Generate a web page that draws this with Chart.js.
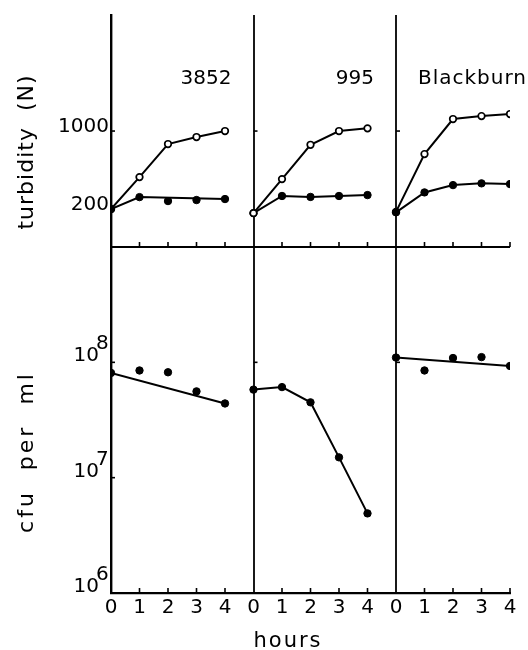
<!DOCTYPE html>
<html>
<head>
<meta charset="utf-8">
<script src="https://cdn.jsdelivr.net/npm/chart.js@4.4.1/dist/chart.umd.min.js"></script>
<style>
    body { margin: 0; background: #fff; }
</style>
</head>
<body>
<canvas id="chart" width="528" height="650"></canvas>
<script>
// DATA
let strains = ["3852", "995", "Blackburn"];
let hours = [0, 1, 2, 3, 4];

// turbidity (N), open circles
let turbOpen3852 = [200, 387, 765, 884, 1000];
let turbOpen995 = [184, 371, 753, 1000, 1057];
let turbOpenBlackburn = [189, 622, 1281, 1362, 1420];

// turbidity (N), filled circles
let turbFilled3852 = [200, 256, 236, 241, 246];
let turbFilledLine3852 = [200, 256, null, null, 246];
let turbFilled995 = [184, 262, 257, 262, 267];
let turbFilledBlackburn = [187, 282, 328, 340, 335];

// cfu per ml
let cfu3852 = [8.1e7, 8.5e7, 8.2e7, 5.6e7, 4.4e7];
let cfuFit3852 = [8.1e7, null, null, null, 4.4e7];
let cfu995 = [5.8e7, 6.1e7, 4.5e7, 1.5e7, 4.9e6];
let cfuBlackburn = [1.1e8, 8.5e7, 1.09e8, 1.11e8, 9.3e7];
let cfuFitBlackburn = [1.1e8, null, null, null, 9.3e7];

// tick labels
let turbTicks = [200, 1000];
let cfuTicks = [1e6, 1e7, 1e8];

const FONT = "DejaVu Sans";
const PANEL = hours.length;   // hours 0..4 then next strain starts

let xTicks = [];
strains.forEach((s, p) => hours.forEach(h => xTicks.push(p * PANEL + h)));

function series(panel, values, axis, opts) {
    let pts = values.map((v, i) => ({ x: panel * PANEL + hours[i], y: v }))
                    .filter(pt => pt.y !== null);
    return Object.assign({
        data: pts,
        yAxisID: axis,
        borderColor: "#000",
        borderWidth: 2,
        pointRadius: 3.7,
        pointHoverRadius: 3.7,
        pointBackgroundColor: "#000",
        pointBorderColor: "#000",
        pointBorderWidth: 1,
        showLine: true,
        fill: false,
        tension: 0
    }, opts);
}

const openStyle = { pointRadius: 3.3, pointBackgroundColor: "#fff", pointBorderWidth: 1.7 };
const dotsOnly = { showLine: false };
const lineOnly = { pointRadius: 0, pointHoverRadius: 0 };

let datasets = [
    // 3852
    series(0, turbFilled3852, "yTop", dotsOnly),
    series(0, turbFilledLine3852, "yTop", lineOnly),
    series(0, turbOpen3852, "yTop", openStyle),
    series(0, cfu3852, "yBottom", dotsOnly),
    series(0, cfuFit3852, "yBottom", lineOnly),
    // 995
    series(1, turbOpen995, "yTop", openStyle),
    series(1, turbFilled995, "yTop", {}),
    series(1, cfu995, "yBottom", {}),
    // Blackburn
    series(2, turbFilledBlackburn, "yTop", {}),
    series(2, turbOpenBlackburn, "yTop", openStyle),
    series(2, cfuBlackburn, "yBottom", dotsOnly),
    series(2, cfuFitBlackburn, "yBottom", lineOnly)
];

function rotatedText(ctx, text, x, y, spacing) {
    ctx.save();
    ctx.translate(x, y);
    ctx.rotate(-Math.PI / 2);
    ctx.textAlign = "center";
    ctx.textBaseline = "alphabetic";
    ctx.letterSpacing = spacing;
    ctx.fillText(text, 0, 0);
    ctx.restore();
}

// panel frames, inward ticks and texts
const framePlugin = {
    id: "frame",
    beforeDatasetsDraw(chart) {
        let ctx = chart.ctx;
        let x = chart.scales.x, top = chart.scales.yTop, bot = chart.scales.yBottom;
        let area = chart.chartArea;
        ctx.save();
        ctx.strokeStyle = "#000";
        ctx.lineWidth = 1.8;

        // dividers between strains
        strains.forEach((s, p) => {
            if (p === 0) return;
            let px = Math.round(x.getPixelForValue(p * PANEL));
            ctx.beginPath();
            ctx.moveTo(px, area.top);
            ctx.lineTo(px, area.bottom);
            ctx.stroke();
        });

        // bottom line of turbidity panel
        ctx.beginPath();
        ctx.moveTo(area.left, top.bottom);
        ctx.lineTo(area.right, top.bottom);
        ctx.stroke();

        // hour ticks pointing up
        ctx.lineWidth = 1.6;
        xTicks.forEach(v => {
            if (v % PANEL === 0) return;
            let px = x.getPixelForValue(v);
            [top.bottom, bot.bottom].forEach(py => {
                ctx.beginPath();
                ctx.moveTo(px, py);
                ctx.lineTo(px, py - 5);
                ctx.stroke();
            });
        });

        // value ticks pointing right
        strains.forEach((s, p) => {
            let px = x.getPixelForValue(p * PANEL);
            turbTicks.forEach(v => {
                if (p > 0 && v !== 1000) return;
                let py = top.getPixelForValue(v);
                ctx.beginPath();
                ctx.moveTo(px, py);
                ctx.lineTo(px + 4, py);
                ctx.stroke();
            });
            cfuTicks.forEach(v => {
                if (p > 0 && v !== 1e8) return;
                let py = bot.getPixelForValue(v);
                ctx.beginPath();
                ctx.moveTo(px, py);
                ctx.lineTo(px + 4, py);
                ctx.stroke();
            });
        });
        ctx.restore();
    },
    afterDraw(chart) {
        let ctx = chart.ctx;
        let x = chart.scales.x, bot = chart.scales.yBottom;
        let area = chart.chartArea;
        ctx.save();
        ctx.fillStyle = "#000";

        // strain names
        ctx.font = "20px '" + FONT + "'";
        ctx.textBaseline = "alphabetic";
        strains.forEach((s, p) => {
            let last = p === strains.length - 1;
            if (last) {
                ctx.textAlign = "left";
                ctx.letterSpacing = "1px";
                ctx.fillText(s, x.getPixelForValue(p * PANEL) + 22, 84);
            } else {
                ctx.textAlign = "right";
                ctx.letterSpacing = "0px";
                ctx.fillText(s, x.getPixelForValue((p + 1) * PANEL) - 22, 84);
            }
        });

        // cfu tick labels with exponents
        ctx.letterSpacing = "0px";
        cfuTicks.forEach(v => {
            let py = bot.getPixelForValue(v);
            let exp = Math.round(Math.log10(v));
            ctx.font = "20px '" + FONT + "'";
            ctx.textAlign = "right";
            ctx.fillText("10", area.left - 12, py - 1);
            ctx.font = "20px '" + FONT + "'";
            ctx.textAlign = "left";
            ctx.fillText(String(exp), area.left - 15, py - 13);
        });

        // axis titles
        ctx.font = "22px '" + FONT + "'";
        rotatedText(ctx, "turbidity  (N)", 33, 152, "1px");
        rotatedText(ctx, "cfu  per  ml", 33, 452, "3px");

        ctx.textAlign = "center";
        ctx.letterSpacing = "2px";
        ctx.font = "21px '" + FONT + "'";
        ctx.fillText("hours", 288, 647);
        ctx.restore();
    }
};

let chart = new Chart(document.getElementById("chart"), {
    type: "line",
    data: { datasets: datasets },
    options: {
        responsive: false,
        animation: false,
        events: [],
        layout: { padding: { top: 15, right: 18, left: 0, bottom: 0 } },
        plugins: {
            legend: { display: false },
            tooltip: { enabled: false }
        },
        scales: {
            x: {
                type: "linear",
                min: 0,
                max: xTicks[xTicks.length - 1],
                afterBuildTicks: s => { s.ticks = xTicks.map(v => ({ value: v })); },
                afterFit: s => { s.height = 57; },
                ticks: {
                    autoSkip: false,
                    maxRotation: 0,
                    padding: 3,
                    color: "#000",
                    font: { family: FONT, size: 20 },
                    callback: v => String(v % PANEL)
                },
                grid: { display: false, drawTicks: false },
                border: { color: "#000", width: 2.2 }
            },
            yTop: {
                type: "logarithmic",
                position: "left",
                stack: "panels",
                stackWeight: 232,
                weight: 2,
                min: 91.5,
                max: 10950,
                afterBuildTicks: s => { s.ticks = turbTicks.map(v => ({ value: v })); },
                afterFit: s => { s.width = 111; },
                ticks: {
                    padding: 2,
                    labelOffset: -4,
                    color: "#000",
                    font: { family: FONT, size: 20 },
                    callback: v => String(v)
                },
                grid: { display: false, drawTicks: false },
                border: { color: "#000", width: 2.4 }
            },
            yBottom: {
                type: "logarithmic",
                position: "left",
                stack: "panels",
                stackWeight: 346,
                weight: 1,
                min: 1e6,
                max: 1e9,
                afterBuildTicks: s => { s.ticks = cfuTicks.map(v => ({ value: v })); },
                afterFit: s => { s.width = 111; },
                ticks: { display: false },
                grid: { display: false, drawTicks: false },
                border: { color: "#000", width: 2.4 }
            }
        }
    },
    plugins: [framePlugin]
});
</script>
</body>
</html>
